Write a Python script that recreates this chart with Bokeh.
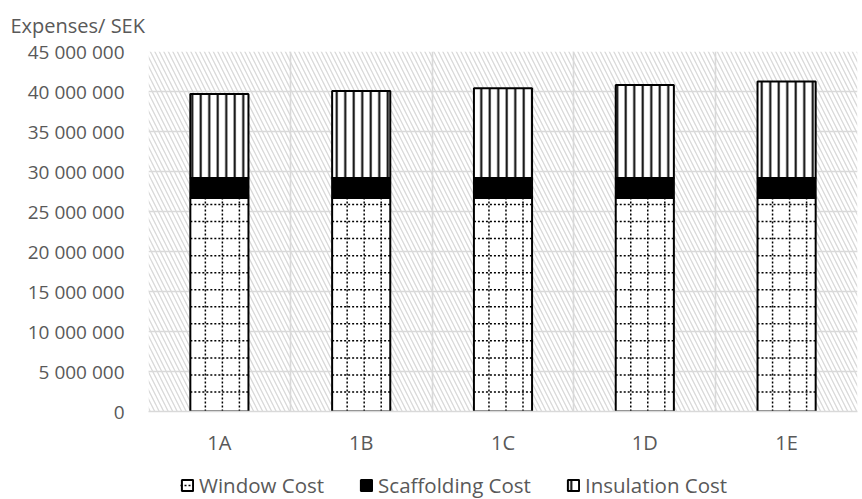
from bokeh.plotting import figure
from bokeh.layouts import column
from bokeh.models import (ColumnDataSource, FixedTicker, BoxAnnotation, Legend,
                          LegendItem, Range1d)
from bokeh.embed import file_html
from bokeh.resources import INLINE

# Cost breakdown per renovation alternative (SEK)
categories = ["1A", "1B", "1C", "1D", "1E"]
window_cost = [26_700_000, 26_700_000, 26_700_000, 26_700_000, 26_700_000]
scaffolding_cost = [2_500_000, 2_500_000, 2_500_000, 2_500_000, 2_500_000]
insulation_cost = [10_500_000, 10_850_000, 11_200_000, 11_600_000, 12_050_000]
series_names = ["Window Cost", "Scaffolding Cost", "Insulation Cost"]
y_ticks = [0, 5_000_000, 10_000_000, 15_000_000, 20_000_000, 25_000_000,
           30_000_000, 35_000_000, 40_000_000, 45_000_000]

TEXT = "#595959"
GRID = "#d9d9d9"
FONT = "Open Sans"
BW = 0.41                 # bar width, in category units

xs = [i + 0.5 for i in range(len(categories))]
w_top = list(window_cost)
s_top = [a + b for a, b in zip(w_top, scaffolding_cost)]
i_top = [a + b for a, b in zip(s_top, insulation_cost)]
src = ColumnDataSource(dict(x=xs, zero=[0] * len(xs), w_top=w_top,
                            s_top=s_top, i_top=i_top))

# dotted-grid texture of the window segment, laid out inside each bar
PITCH_Y, START_Y = 2_130_000, 2_440_000
PITCH_X, START_X, N_COLS = 0.12, 0.106, 3
tx0, tx1, ty0, ty1 = [], [], [], []
for x, top in zip(xs, w_top):
    left = x - BW / 2
    y = START_Y
    while y < top:
        tx0.append(left); tx1.append(left + BW); ty0.append(y); ty1.append(y)
        y += PITCH_Y
    for k in range(N_COLS):
        gx = left + START_X + k * PITCH_X
        tx0.append(gx); tx1.append(gx); ty0.append(0); ty1.append(top)
tex_src = ColumnDataSource(dict(x0=tx0, x1=tx1, y0=ty0, y1=ty1))

p = figure(width=862, height=460, output_backend="svg", toolbar_location=None,
           x_range=Range1d(0, len(categories)), y_range=Range1d(0, 45_000_000),
           min_border_left=148, min_border_right=5, min_border_bottom=49,
           min_border_top=0)
p.outline_line_color = None
p.background_fill_color = "white"
p.border_fill_color = "white"

# title
p.title.text = "Expenses/ SEK"
p.title.text_font = FONT
p.title.text_font_size = "20px"
p.title.text_font_style = "normal"
p.title.text_color = TEXT
p.title.align = "left"
p.title.vertical_align = "top"
p.title.offset = -138
p.title.standoff = 22

# hatched plot area
p.add_layout(BoxAnnotation(fill_color=None, line_color=None,
                           hatch_pattern="left_diagonal_line",
                           hatch_color=GRID, hatch_scale=9, hatch_weight=1.3,
                           level="image"))

# grids
p.xgrid.ticker = FixedTicker(ticks=list(range(len(categories) + 1)))
p.ygrid.ticker = FixedTicker(ticks=y_ticks)
for g in (p.xgrid, p.ygrid):
    g.grid_line_color = GRID
    g.grid_line_width = 1.6
    g.level = "underlay"

# axes
p.xaxis.ticker = FixedTicker(ticks=xs)
p.xaxis.major_label_overrides = {x: c for x, c in zip(xs, categories)}
p.yaxis.ticker = FixedTicker(ticks=y_ticks)
p.yaxis.major_label_overrides = {t: f"{t:,}".replace(",", " ") for t in y_ticks}
for ax in (p.xaxis, p.yaxis):
    ax.major_tick_line_color = None
    ax.minor_tick_line_color = None
    ax.major_label_text_font = FONT
    ax.major_label_text_color = TEXT
p.xaxis.major_label_text_font_size = "20px"
p.yaxis.major_label_text_font_size = "19px"
p.yaxis.axis_line_color = None
p.yaxis.major_label_standoff = 18
p.xaxis.axis_line_color = GRID
p.xaxis.axis_line_width = 1.6
p.xaxis.major_label_standoff = 11

win_style = dict(fill_color="white", line_color="black", line_width=2)
tex_style = dict(line_color="black", line_width=1.5, line_dash="2 2")
sca_style = dict(fill_color="black", line_color="black", line_width=2)
ins_style = dict(fill_color="white", line_color="black", line_width=2,
                 hatch_pattern="vertical_line", hatch_color="black",
                 hatch_scale=8.5, hatch_weight=2)


def draw_stack(fig):
    w = fig.vbar(x="x", bottom="zero", top="w_top", width=BW, source=src, **win_style)
    t = fig.segment(x0="x0", x1="x1", y0="y0", y1="y1", source=tex_src, **tex_style)
    s = fig.vbar(x="x", bottom="w_top", top="s_top", width=BW, source=src, **sca_style)
    i = fig.vbar(x="x", bottom="s_top", top="i_top", width=BW, source=src, **ins_style)
    return [[w, t], [s], [i]]


draw_stack(p)

# legend strip below the chart; its copy of the stack is kept out of view
lg = figure(width=862, height=39, output_backend="svg", toolbar_location=None,
            x_range=Range1d(0, len(categories)), y_range=Range1d(60_000_000, 65_000_000),
            x_axis_location=None, y_axis_location=None,
            min_border_left=148, min_border_right=5,
            min_border_top=0, min_border_bottom=0)
lg.outline_line_color = None
lg.background_fill_color = "white"
lg.xgrid.visible = False
lg.ygrid.visible = False
keys = draw_stack(lg)
lg.add_layout(BoxAnnotation(fill_color="white", fill_alpha=1.0,
                            line_color=None, level="guide"))
legend = Legend(items=[LegendItem(label=n, renderers=r)
                       for n, r in zip(series_names, keys)],
                orientation="horizontal", location=(32, 0),
                label_text_font=FONT, label_text_font_size="20.5px",
                label_text_color=TEXT, glyph_width=14, glyph_height=14,
                spacing=35, label_standoff=5, border_line_color=None,
                background_fill_alpha=0, padding=0, margin=0)
lg.add_layout(legend, "center")

layout = column(p, lg, spacing=0)
open("out.html", "w").write(file_html(layout, INLINE))
